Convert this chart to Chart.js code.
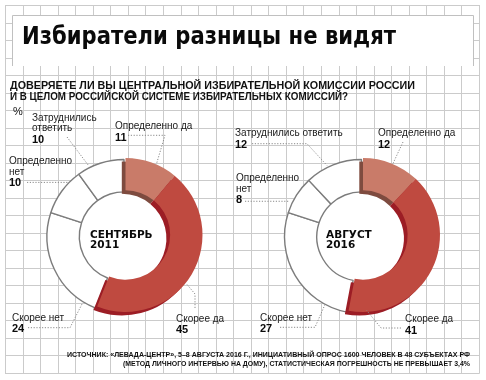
<!DOCTYPE html>
<html>
<head>
<meta charset="utf-8">
<script src="https://cdn.jsdelivr.net/npm/chart.js@4"></script>
<style>
  html,body{margin:0;padding:0;background:#fff;}
  #wrap{position:relative;width:486px;height:380px;overflow:hidden;}
  #wrap canvas{position:absolute;left:0;top:0;}
</style>
</head>
<body>
<div id="wrap">
  <canvas id="c1" width="486" height="380"></canvas>
  <canvas id="c2" width="486" height="380"></canvas>
</div>
<script>
// ---------------- DATA ----------------
const categories = ['Определенно да', 'Скорее да', 'Скорее нет', 'Определенно нет', 'Затруднились ответить'];
const sep2011 = [11, 45, 24, 10, 10];
const aug2016 = [12, 41, 27, 8, 12];
const periodNames = [['СЕНТЯБРЬ', '2011'], ['АВГУСТ', '2016']];
const titleText = 'Избиратели разницы не видят';
const questionLines = [
  'ДОВЕРЯЕТЕ ЛИ ВЫ ЦЕНТРАЛЬНОЙ ИЗБИРАТЕЛЬНОЙ КОМИССИИ РОССИИ',
  'И В ЦЕЛОМ РОССИЙСКОЙ СИСТЕМЕ ИЗБИРАТЕЛЬНЫХ КОМИССИЙ?'
];
const unitLabel = '%';
const sourceLines = [
  'ИСТОЧНИК: «ЛЕВАДА-ЦЕНТР», 5–8 АВГУСТА 2016 Г., ИНИЦИАТИВНЫЙ ОПРОС 1600 ЧЕЛОВЕК В 48 СУБЪЕКТАХ РФ',
  '(МЕТОД ЛИЧНОГО ИНТЕРВЬЮ НА ДОМУ), СТАТИСТИЧЕСКАЯ ПОГРЕШНОСТЬ НЕ ПРЕВЫШАЕТ 3,4%'
];

// ---------------- STYLE ----------------
const W = 486, H = 380;
const segFill   = ['#c97b69', '#bf4a40', '#ffffff', '#ffffff', '#ffffff'];
const segShade  = ['#7e4b3f', '#9c1d25', null, null, null];
const segBorder = ['#c97b69', '#bf4a40', '#7c7c7c', '#7c7c7c', '#7c7c7c'];
const segBW     = [0, 0, 1.4, 1.4, 1.4];
const LIFT = [1.5, -1.5], SHADE = [-2.2, 2];
const labelFont = '10px "Liberation Sans", Arial, sans-serif';
const numFont = 'bold 11px "Liberation Sans", Arial, sans-serif';
const periodFont = 'bold 10.5px "DejaVu Sans", sans-serif';

const layouts = [
  { cx: 124, cy: 236.5, R: 77, period: { x: 90, y: 238.3 },
    labels: [
      { x: 115, y: 129.3, split: false, lead: { pts: [[128, 135.3], [165, 135.3]], frac: 0.61, gap: 2 } },
      { x: 176, y: 321.7, split: false, lead: { pts: [[195, 308], [195, 294]], frac: 0.54, gap: 1 } },
      { x: 12,  y: 320.7, split: false, lead: { pts: [[28, 327.7], [70, 327.7]], frac: 0.12, gap: 1 } },
      { x: 9,   y: 164.3, split: true,  lead: { pts: [[27, 0]], frac: 0.72, gap: 1, flat: true } },
      { x: 32,  y: 120.5, split: true,  lead: { pts: [[67, 137]], frac: 0.26, gap: 3 } }
    ] },
  { cx: 361.5, cy: 236.5, R: 77, period: { x: 326, y: 238.3 },
    labels: [
      { x: 378, y: 136, split: false, lead: { pts: [[403, 142]], frac: 0.54, gap: 2 } },
      { x: 405, y: 322, split: false, lead: { pts: [[401, 328], [381, 328]], frac: 0.90, gap: -3 } },
      { x: 260, y: 320.7, split: false, lead: { pts: [[280, 327.3], [315, 327.3]], frac: 0.18, gap: -1 } },
      { x: 236, y: 181.3, split: true, lead: { pts: [[245, 0]], frac: 0.27, gap: 4, flat: true } },
      { x: 235, y: 136, split: false, lead: { pts: [[252, 143.7], [307, 143.7]], frac: 0.40, gap: 2 } }
    ] }
];

// ---------------- HELPERS ----------------
function fitText(ctx, text, x, y, font, targetW, align, color) {
  ctx.save();
  ctx.font = font;
  ctx.fillStyle = color || '#111';
  ctx.textBaseline = 'alphabetic';
  ctx.textAlign = 'left';
  const w = ctx.measureText(text).width;
  const s = targetW / w;
  ctx.translate(align === 'right' ? x - targetW : x, y);
  ctx.scale(s, 1);
  ctx.fillText(text, 0, 0);
  ctx.restore();
}

const backgroundPlugin = {
  id: 'bg',
  beforeDraw(chart) {
    const ctx = chart.ctx;
    ctx.save();
    ctx.fillStyle = '#fff';
    ctx.fillRect(0, 0, W, H);
    // grid
    ctx.strokeStyle = '#cbcbcb';
    ctx.lineWidth = 1;
    ctx.beginPath();
    for (let i = 0; i <= 27; i++) {
      const x = Math.round(5 + i * (474 / 27)) + 0.5;
      ctx.moveTo(x, 5); ctx.lineTo(x, 373.5);
    }
    for (let j = 0; j <= 21; j++) {
      const y = Math.round(5 + j * (368 / 21)) + 0.5;
      ctx.moveTo(5, y); ctx.lineTo(479.5, y);
    }
    ctx.stroke();
    // title box
    ctx.fillStyle = '#fff';
    ctx.fillRect(12, 15, 462, 51);
    ctx.strokeStyle = '#c0c0c0';
    ctx.beginPath();
    ctx.moveTo(12.5, 66); ctx.lineTo(12.5, 15.5); ctx.lineTo(473.5, 15.5); ctx.lineTo(473.5, 66);
    ctx.stroke();
    ctx.restore();
    // texts
    fitText(ctx, titleText, 22, 44, 'bold 24px "DejaVu Sans", sans-serif', 374, 'left', '#0a0a0a');
    fitText(ctx, questionLines[0], 10, 89.3, 'bold 11px "Liberation Sans Narrow", "Liberation Sans", sans-serif', 405, 'left', '#111');
    fitText(ctx, questionLines[1], 10, 100, 'bold 11px "Liberation Sans Narrow", "Liberation Sans", sans-serif', 338, 'left', '#111');
    ctx.save();
    ctx.font = '11px "Liberation Sans", sans-serif';
    ctx.fillStyle = '#111';
    ctx.fillText(unitLabel, 13, 114.5);
    ctx.restore();
    fitText(ctx, sourceLines[0], 470, 357, 'bold 7px "Liberation Sans Narrow", "Liberation Sans", sans-serif', 403, 'right', '#111');
    fitText(ctx, sourceLines[1], 470, 366, 'bold 7px "Liberation Sans Narrow", "Liberation Sans", sans-serif', 347, 'right', '#111');
  }
};

function ringPlugin(lay, period, values) {
  return {
    id: 'ring3d',
    beforeDatasetDraw(chart, args) {
      const ctx = chart.ctx;
      const meta = chart.getDatasetMeta(args.index);
      const p0 = meta.data[0].getProps(['x', 'y', 'outerRadius', 'innerRadius'], true);
      ctx.save();
      ctx.fillStyle = '#fff';
      ctx.beginPath();
      ctx.arc(p0.x, p0.y, p0.outerRadius, 0, Math.PI * 2);
      ctx.fill();
      ctx.restore();
      meta.data.forEach((el, i) => { if (!segShade[i]) el.draw(ctx); });
      meta.data.forEach((el, i) => {
        if (!segShade[i]) return;
        const p = el.getProps(['x', 'y', 'startAngle', 'endAngle', 'innerRadius', 'outerRadius'], true);
        ctx.save();
        ctx.fillStyle = segShade[i];
        ctx.beginPath();
        ctx.arc(p.x + SHADE[0], p.y + SHADE[1], p.outerRadius, p.startAngle, p.endAngle);
        ctx.arc(p.x + SHADE[0], p.y + SHADE[1], p.innerRadius, p.endAngle, p.startAngle, true);
        ctx.closePath();
        ctx.fill();
        ctx.restore();
      });
      meta.data.forEach((el, i) => {
        if (!segShade[i]) return;
        ctx.save();
        ctx.translate(LIFT[0], LIFT[1]);
        el.draw(ctx);
        ctx.restore();
      });
      return false;
    },
    afterDraw(chart) {
      const ctx = chart.ctx;
      const meta = chart.getDatasetMeta(0);
      // center label
      ctx.save();
      ctx.font = periodFont;
      ctx.fillStyle = '#0a0a0a';
      ctx.fillText(period[0], lay.period.x, lay.period.y);
      ctx.fillText(period[1], lay.period.x, lay.period.y + 9.4);
      ctx.restore();
      // labels + leaders
      lay.labels.forEach((lb, i) => {
        const el = meta.data[i];
        const p = el.getProps(['x', 'y', 'startAngle', 'endAngle', 'outerRadius'], true);
        const a = p.startAngle + lb.lead.frac * (p.endAngle - p.startAngle);
        const r = p.outerRadius + lb.lead.gap;
        const ex = p.x + r * Math.cos(a), ey = p.y + r * Math.sin(a);
        const pts = lb.lead.pts.map(q => [q[0], lb.lead.flat ? ey : q[1]]);
        pts.push([ex, ey]);
        ctx.save();
        ctx.strokeStyle = '#8a8a8a';
        ctx.lineWidth = 1;
        ctx.setLineDash([1.2, 1.6]);
        ctx.beginPath();
        ctx.moveTo(pts[0][0], pts[0][1]);
        for (let k = 1; k < pts.length; k++) ctx.lineTo(pts[k][0], pts[k][1]);
        ctx.stroke();
        ctx.restore();

        const name = categories[i];
        let lines = [name];
        if (lb.split) {
          const sp = name.indexOf(' ');
          lines = [name.slice(0, sp), name.slice(sp + 1)];
        }
        ctx.save();
        ctx.fillStyle = '#1a1a1a';
        ctx.font = labelFont;
        lines.forEach((t, k) => ctx.fillText(t, lb.x, lb.y + k * 10.5));
        ctx.font = numFont;
        ctx.fillStyle = '#0a0a0a';
        ctx.fillText(String(values[i]), lb.x, lb.y + (lines.length - 1) * 10.5 + 11.6);
        ctx.restore();
      });
    }
  };
}

function makeChart(id, values, lay, period, extraPlugins) {
  const bw = Math.max(...segBW);
  const size = 2 * lay.R + bw;
  const left = lay.cx - size / 2, top = lay.cy - size / 2;
  return new Chart(document.getElementById(id), {
    type: 'doughnut',
    data: {
      labels: categories,
      datasets: [{
        data: values,
        backgroundColor: segFill,
        borderColor: segBorder,
        borderWidth: segBW,
        hoverOffset: 0,
        offset: 0
      }]
    },
    options: {
      responsive: false,
      animation: false,
      events: [],
      cutout: '58%',
      rotation: 0,
      circumference: 360,
      layout: { padding: { left: left, top: top, right: W - left - size, bottom: H - top - size } },
      plugins: { legend: { display: false }, tooltip: { enabled: false } }
    },
    plugins: extraPlugins.concat([ringPlugin(lay, period, values)])
  });
}

makeChart('c1', sep2011, layouts[0], periodNames[0], [backgroundPlugin]);
makeChart('c2', aug2016, layouts[1], periodNames[1], []);
</script>
</body>
</html>
